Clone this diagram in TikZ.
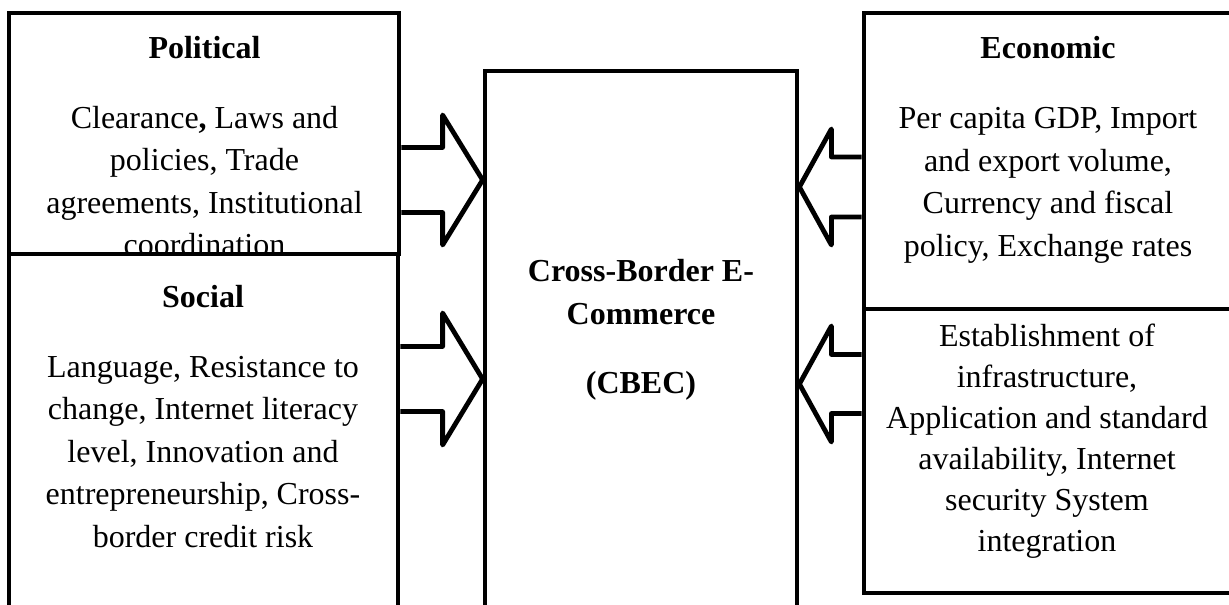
\documentclass[tikz,border=0pt]{standalone}
\usepackage{fontspec}
\setmainfont{Liberation Serif}
\usetikzlibrary{fit,calc}
\newcommand\blockarr[5]{% #1 start, #2 tip, #3 head length (signed), #4 shaft half, #5 head half
  \draw[arrowline] ($(#1)+(0,-#4)$) -- ($(#2)+(#3,-#4)$) -- ($(#2)+(#3,-#5)$) -- (#2)
    -- ($(#2)+(#3,#5)$) -- ($(#2)+(#3,#4)$) -- ($(#1)+(0,#4)$);}
\begin{document}
\begin{tikzpicture}[x=0.75pt,y=-0.75pt,
  box/.style={draw=black, fill=white, line width=3.6pt, inner sep=0pt},
  arrowline/.style={draw=black, fill=white, line width=3.6pt, line join=round},
  body/.style={align=center, inner sep=0pt, font=\fontsize{24}{31.9}\selectfont},
  title/.style={align=center, inner sep=0pt, font=\fontsize{24}{31.9}\selectfont\bfseries}]
\useasboundingbox (0,0) rectangle (1229,605);
\fill[white] (0,0) rectangle (1229,605);

% Political
\node[box, fit={(9,13) (399,254)}] (pol) {};
\node[title] (poltitle) at (204.5,48) {Political};
\node[body] (poltext) at (204.5,181) {Clearance\textbf{,} Laws and\\policies, Trade\\agreements, Institutional\\coordination};

% Social
\node[box, fit={(9,254) (398,660)}] (soc) {};
\node[title] (soctitle) at (203,297) {Social};
\node[body] (soctext) at (203,452) {Language, Resistance to\\change, Internet literacy\\level, Innovation and\\entrepreneurship, Cross-\\border credit risk};

% Centre
\node[box, fit={(485,71) (797,660)}] (cbec) {};
\node[title, font=\fontsize{24}{32.3}\selectfont\bfseries] (cbectext) at (641,330) {Cross-Border E-\\Commerce\\[19.5pt](CBEC)};

% Economic
\node[box, fit={(864,13) (1240,309)}] (eco) {};
\node[title] (ecotitle) at (1048,48) {Economic};
\node[body] (ecotext) at (1048,185.5) {Per capita GDP, Import\\and export volume,\\Currency and fiscal\\policy, Exchange rates};

% Technological
\node[box, fit={(864,309) (1240,593)}] (tec) {};
\node[body, font=\fontsize{24}{30.8}\selectfont] (tectext) at (1047,441.5) {Establishment of\\infrastructure,\\Application and standard\\availability, Internet\\security System\\integration};

% arrows
\coordinate (t1) at (cbec.west |- 0,180);
\coordinate (s1) at (pol.east |- 0,180);
\blockarr{s1}{t1}{-40}{32.5}{65}

\coordinate (t2) at (cbec.west |- 0,379);
\coordinate (s2) at (soc.east |- 0,379);
\blockarr{s2}{t2}{-40}{32.5}{66}

\coordinate (t3) at (cbec.east |- 0,187);
\coordinate (s3) at (eco.west |- 0,187);
\blockarr{s3}{t3}{32}{30}{58}

\coordinate (t4) at (cbec.east |- 0,384);
\coordinate (s4) at (tec.west |- 0,384);
\blockarr{s4}{t4}{32}{29.5}{58}
\end{tikzpicture}
\end{document}
